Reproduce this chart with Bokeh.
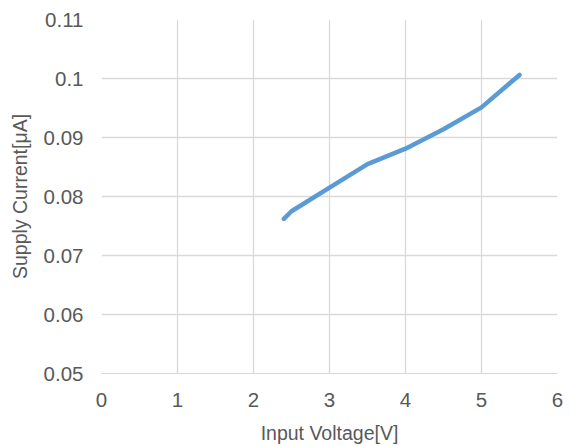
from bokeh.plotting import figure
from bokeh.embed import file_html
from bokeh.resources import INLINE
from bokeh.models import Range1d, FixedTicker

voltage = [2.4, 2.5, 3.0, 3.5, 4.0, 4.5, 5.0, 5.5]
current = [0.0762, 0.0775, 0.0815, 0.0855, 0.0881, 0.0914, 0.0951, 0.1006]
x_ticks = [0, 1, 2, 3, 4, 5, 6]
y_ticks = [0.05, 0.06, 0.07, 0.08, 0.09, 0.10, 0.11]
y_labels = {0.05: "0.05", 0.06: "0.06", 0.07: "0.07", 0.08: "0.08",
            0.09: "0.09", 0.10: "0.1", 0.11: "0.11"}

p = figure(width=565, height=446, output_backend="svg", toolbar_location=None,
           x_range=Range1d(0, 6), y_range=Range1d(0.05, 0.11),
           min_border_left=101, min_border_right=8, min_border_top=19, min_border_bottom=72)
p.outline_line_color = None
p.line(voltage, current, line_width=4.5, line_color="#5B9BD5", line_cap="round", line_join="round")

font = "Liberation Sans"
gray = "#595959"
p.xaxis.ticker = FixedTicker(ticks=x_ticks)
p.yaxis.ticker = FixedTicker(ticks=y_ticks)
p.yaxis.major_label_overrides = y_labels
for ax in (p.xaxis, p.yaxis):
    ax.major_tick_line_color = None
    ax.minor_tick_line_color = None
    ax.axis_line_color = "#d9d9d9"
    ax.major_label_text_font = font
    ax.major_label_text_font_size = "20.5px"
    ax.major_label_text_color = gray
    ax.axis_label_text_font = font
    ax.axis_label_text_font_size = "19.5px"
    ax.axis_label_text_font_style = "normal"
    ax.axis_label_text_color = gray
p.yaxis.axis_line_color = None
p.xaxis.axis_label = "Input Voltage[V]"
p.yaxis.axis_label = "Supply Current[μA]"
p.xaxis.major_label_standoff = 13
p.yaxis.major_label_standoff = 12
p.xaxis.axis_label_standoff = 12
p.yaxis.axis_label_standoff = 10
p.grid.grid_line_color = "#d9d9d9"
p.grid.grid_line_width = 1.3

open("out.html", "w").write(file_html(p, INLINE))
